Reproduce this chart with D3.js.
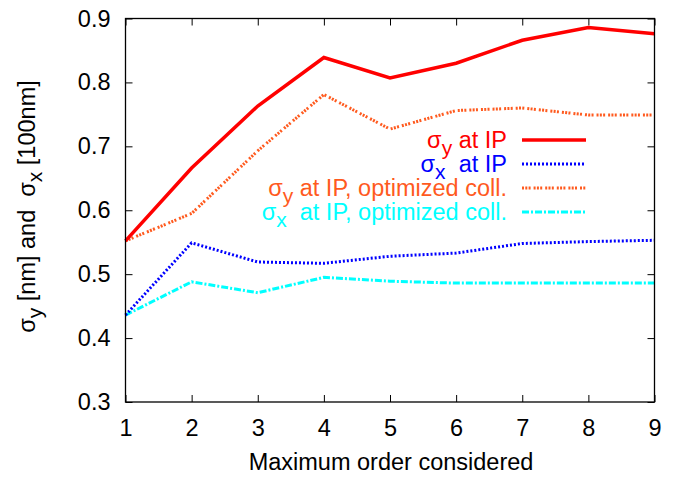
<!DOCTYPE html>
<html>
<head>
<meta charset="utf-8">
<script src="https://cdn.jsdelivr.net/npm/d3@7"></script>
<style>
  body { margin: 0; background: #fff; }
  text { font-family: "Liberation Sans", Arial, sans-serif; white-space: pre; }
</style>
</head>
<body>
<div class="center"></div>
<script>
// data
const orders = [1, 2, 3, 4, 5, 6, 7, 8, 9];
const sigmaY = [0.552, 0.666, 0.763, 0.839, 0.807, 0.830, 0.866, 0.886, 0.876];
const sigmaX = [0.436, 0.549, 0.519, 0.517, 0.528, 0.533, 0.548, 0.551, 0.553];
const sigmaYOpt = [0.552, 0.595, 0.693, 0.781, 0.727, 0.756, 0.760, 0.749, 0.749];
const sigmaXOpt = [0.436, 0.488, 0.471, 0.495, 0.489, 0.486, 0.486, 0.486, 0.486];
const yTicks = [0.3, 0.4, 0.5, 0.6, 0.7, 0.8, 0.9];

const series = [
  {sub: "y", label: " at IP", values: sigmaY, color: "#ff0000", width: 3.5, dash: null},
  {sub: "x", label: "  at IP", values: sigmaX, color: "#0000ff", width: 3, dash: "2,2"},
  {sub: "y", label: " at IP, optimized coll.", values: sigmaYOpt, color: "#ff5a1e", width: 3, dash: "2,1.3,2,1.3,2,3"},
  {sub: "x", label: "  at IP, optimized coll.", values: sigmaXOpt, color: "#00ffff", width: 3, dash: "7,2,2,2"}
];

const fontSize = "23.5px";
const margin = {top: 18.5, right: 20.5, bottom: 75, left: 125.5};
const width = 675 - margin.left - margin.right;
const height = 477 - margin.top - margin.bottom;

const xScale = d3.scaleLinear().domain([1, 9]).range([0, width]);
const yScale = d3.scaleLinear().domain([0.3, 0.9]).range([height, 0]);

const svg = d3.select(".center").append("svg")
  .attr("width", 675)
  .attr("height", 477)
  .append("g")
  .attr("transform", `translate(${margin.left},${margin.top})`);

// axes, ticks pointing inward, mirrored on top and right
function styleAxis(g) {
  g.select(".domain").remove();
  g.selectAll(".tick line").attr("stroke", "#000").attr("stroke-width", 1);
  g.selectAll("text").style("font-size", fontSize).attr("fill", "#000");
}
svg.append("g")
  .attr("transform", `translate(0,${height})`)
  .call(d3.axisBottom(xScale).tickValues(orders).tickSize(-7).tickPadding(17).tickFormat(d3.format("d")))
  .call(styleAxis);
svg.append("g")
  .call(d3.axisTop(xScale).tickValues(orders).tickSize(-7).tickFormat(""))
  .call(styleAxis);
svg.append("g")
  .call(d3.axisLeft(yScale).tickValues(yTicks).tickSize(-7).tickPadding(15).tickFormat(d3.format(".1f")))
  .call(styleAxis);
svg.append("g")
  .attr("transform", `translate(${width},0)`)
  .call(d3.axisRight(yScale).tickValues(yTicks).tickSize(-7).tickFormat(""))
  .call(styleAxis);

const line = d3.line()
  .x((d, i) => xScale(orders[i]))
  .y(d => yScale(d));

// draw bottom series first so red ends on top
series.slice().reverse().forEach(s => {
  svg.append("path")
    .datum(s.values)
    .attr("fill", "none")
    .attr("stroke", s.color)
    .attr("stroke-width", s.width)
    .attr("stroke-dasharray", s.dash)
    .attr("d", line);
});

svg.append("rect")
  .attr("width", width).attr("height", height)
  .attr("fill", "none").attr("stroke", "#000").attr("stroke-width", 1.3);

// legend
const legend = svg.append("g").attr("transform", `translate(${507 - margin.left},${140 - margin.top})`);
series.forEach((s, i) => {
  const t = legend.append("text")
    .attr("x", 0).attr("y", i * 24 + 7.5)
    .attr("text-anchor", "end")
    .attr("fill", s.color)
    .style("font-size", fontSize);
  t.append("tspan").text("σ");
  t.append("tspan").attr("dy", 7).style("font-size", "21px").text(s.sub);
  t.append("tspan").attr("dy", -7).text(s.label);
  legend.append("line")
    .attr("x1", 15).attr("x2", 79)
    .attr("y1", i * 24).attr("y2", i * 24)
    .attr("stroke", s.color)
    .attr("stroke-width", s.width)
    .attr("stroke-dasharray", s.dash);
});

// axis labels
svg.append("text")
  .attr("x", width / 2 + 1)
  .attr("y", height + 68)
  .attr("text-anchor", "middle")
  .style("font-size", fontSize)
  .text("Maximum order considered");

const yl = svg.append("text")
  .attr("transform", `translate(${-90.5},${188}) rotate(-90)`)
  .attr("text-anchor", "middle")
  .style("font-size", fontSize);
yl.append("tspan").text("σ");
yl.append("tspan").attr("dy", 7).style("font-size", "21px").text("y");
yl.append("tspan").attr("dy", -7).text(" [nm] and  σ");
yl.append("tspan").attr("dy", 7).style("font-size", "21px").text("x");
yl.append("tspan").attr("dy", -7).text(" [100nm]");
</script>
</body>
</html>
